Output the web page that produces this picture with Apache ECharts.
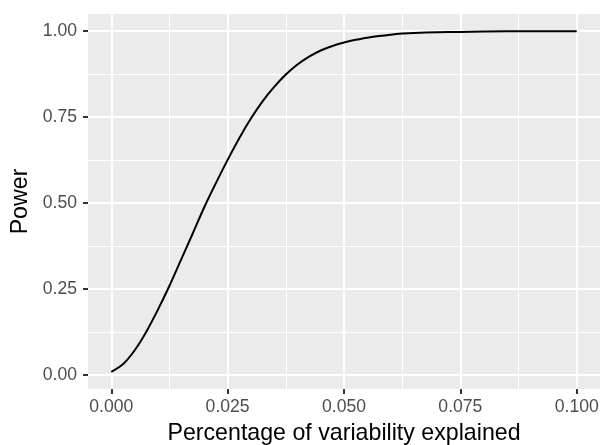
<!DOCTYPE html>
<html>
<head>
<meta charset="utf-8">
<script src="https://cdn.jsdelivr.net/npm/echarts@6/dist/echarts.min.js"></script>
<style>
  html, body { margin: 0; padding: 0; background: #fff; }
  #chart { width: 603px; height: 445px; }
</style>
</head>
<body>
<div id="chart"></div>
<script>
// effect size (share of variability explained) and the power
const effect = [0, 0.0025, 0.005, 0.0075, 0.01, 0.0125, 0.015, 0.0175, 0.02, 0.0225,
  0.025, 0.0275, 0.03, 0.0325, 0.035, 0.0375, 0.04, 0.0425, 0.045, 0.0475,
  0.05, 0.0525, 0.055, 0.0575, 0.06, 0.0625, 0.065, 0.07, 0.075, 0.08, 0.09, 0.1];
const power = [0.01, 0.032, 0.072, 0.126, 0.19, 0.26, 0.336, 0.412, 0.489, 0.559,
  0.626, 0.689, 0.746, 0.796, 0.838, 0.874, 0.903, 0.926, 0.944, 0.957,
  0.967, 0.975, 0.981, 0.986, 0.99, 0.993, 0.995, 0.997, 0.998, 0.999, 1.0, 1.0];

const xTicks = [0, 0.025, 0.05, 0.075, 0.1];
const yTicks = [0, 0.25, 0.5, 0.75, 1.0];

const labelFont = "Liberation Sans";
const tickStyle = { show: true, length: 5, lineStyle: { color: "#333333", width: 2 } };

const chart = echarts.init(document.getElementById("chart"));

chart.setOption({
  animation: false,
  grid: {
    left: 88,
    right: 3,
    top: 14,
    bottom: 56,
    outerBoundsMode: "none",
    show: true,
    backgroundColor: "#EBEBEB",
    borderWidth: 0,
  },
  xAxis: {
    type: "value",
    min: -0.005,
    max: 0.105,
    minInterval: 0.025,
    maxInterval: 0.025,
    axisLine: { show: false, onZero: false },
    axisTick: { ...tickStyle, customValues: xTicks },
    axisLabel: {
      customValues: xTicks,
      formatter: (v) => v.toFixed(3),
      color: "#4D4D4D",
      fontSize: 17.6,
      fontFamily: labelFont,
      margin: 9,
    },
    splitLine: { show: true, lineStyle: { color: "#ffffff", width: 2 } },
    minorTick: { show: false, splitNumber: 2 },
    minorSplitLine: { show: true, lineStyle: { color: "#ffffff", width: 1 } },
    name: "Percentage of variability explained",
    nameLocation: "middle",
    nameGap: 33,
    nameTextStyle: { color: "#000", fontSize: 23.2, fontFamily: labelFont },
  },
  yAxis: {
    type: "value",
    min: -0.04,
    max: 1.05,
    minInterval: 0.25,
    maxInterval: 0.25,
    axisLine: { show: false, onZero: false },
    axisTick: { ...tickStyle, customValues: yTicks },
    axisLabel: {
      customValues: yTicks,
      formatter: (v) => v.toFixed(2),
      color: "#4D4D4D",
      fontSize: 17.6,
      fontFamily: labelFont,
      margin: 11,
    },
    splitLine: { show: true, lineStyle: { color: "#ffffff", width: 2 } },
    minorTick: { show: false, splitNumber: 2 },
    minorSplitLine: { show: true, lineStyle: { color: "#ffffff", width: 1 } },
    name: "Power",
    nameLocation: "middle",
    nameGap: 55,
    nameTextStyle: { color: "#000", fontSize: 23.2, fontFamily: labelFont },
  },
  series: [
    {
      type: "line",
      data: effect.map((x, i) => [x, power[i]]),
      smooth: 0.3,
      showSymbol: false,
      lineStyle: { color: "#000", width: 2 },
    },
  ],
});
</script>
</body>
</html>
